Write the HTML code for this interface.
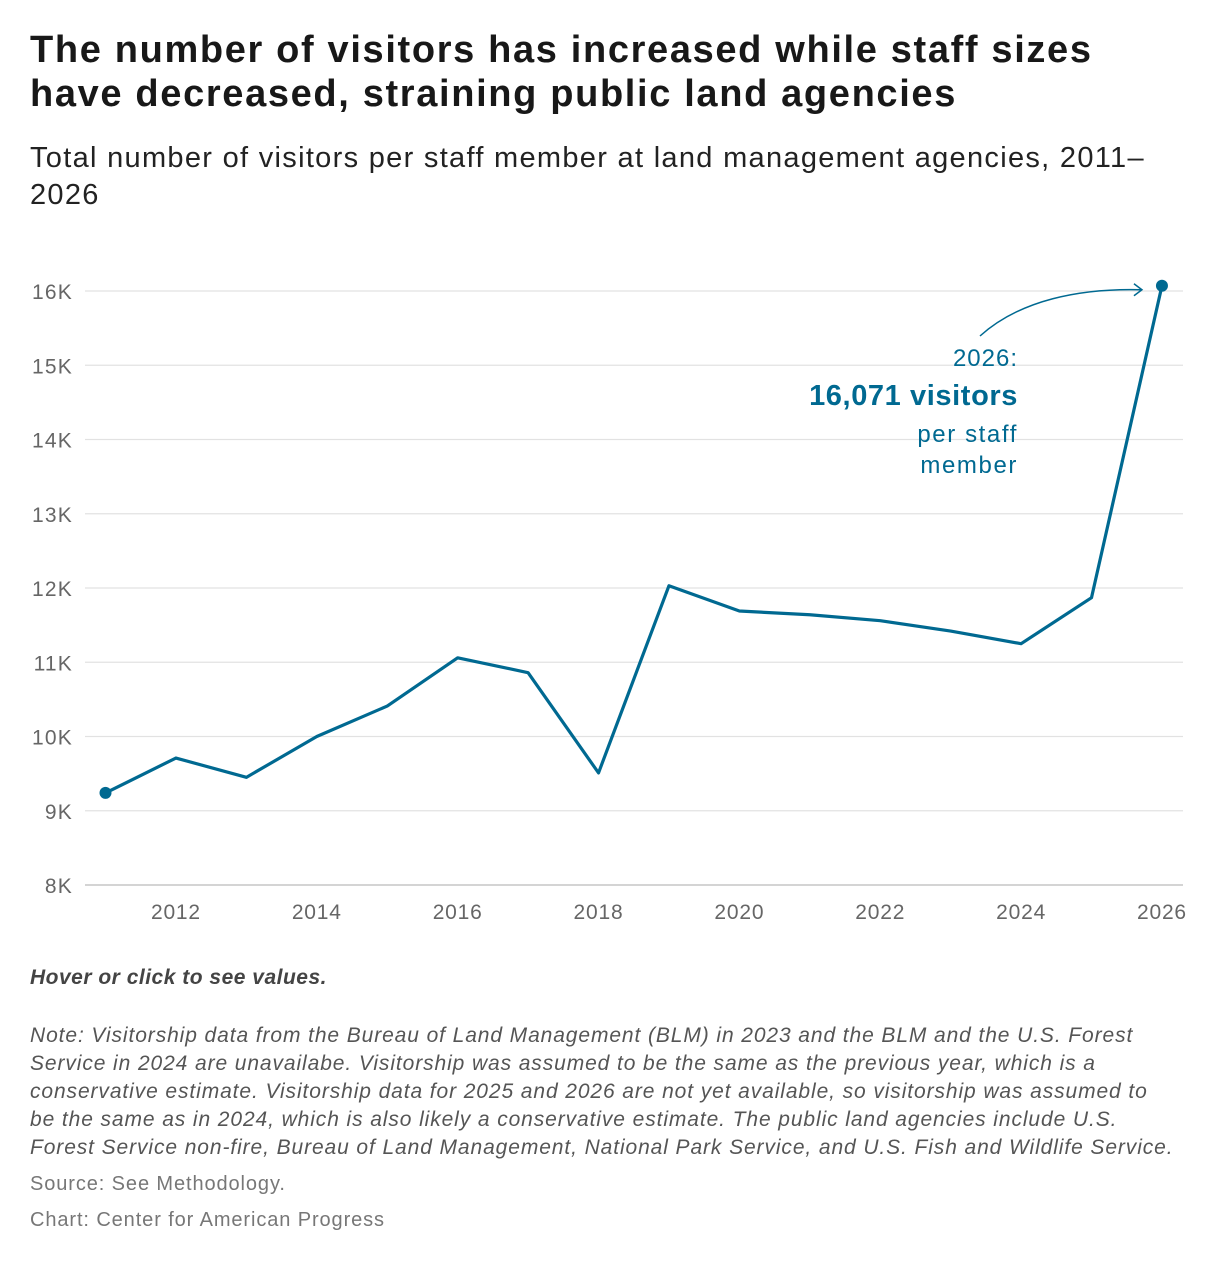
<!DOCTYPE html>
<html><head><meta charset="utf-8"><style>
body{margin:0;width:1220px;height:1264px;background:#fff;font-family:"Liberation Sans",Arial,sans-serif;color:#222;overflow:hidden}
h1{position:absolute;left:30px;top:28px;margin:0;font-size:38px;line-height:44px;font-weight:bold;color:#181818;width:1160px;letter-spacing:1.65px}
.sub{position:absolute;left:30px;top:140px;font-size:29px;line-height:37px;color:#222;width:1170px;letter-spacing:1.3px}
.hover{position:absolute;left:30px;top:966px;font-size:21px;font-style:italic;font-weight:bold;color:#444;letter-spacing:0.5px}
.note{position:absolute;left:30px;top:1022px;font-size:21px;line-height:28px;font-style:italic;color:#555;width:1185px;letter-spacing:0.9px;white-space:nowrap}
.src{position:absolute;left:30px;font-size:20px;color:#777;letter-spacing:0.9px}
svg{position:absolute;left:0;top:0}
</style></head><body>
<h1>The number of visitors has increased while staff sizes<br>have decreased, straining public land agencies</h1>
<div class="sub">Total number of visitors per staff member at land management agencies, 2011–<br>2026</div>
<svg id="chart" width="1220" height="960"></svg>
<div class="hover">Hover or click to see values.</div>
<div class="note">Note: Visitorship data from the Bureau of Land Management (BLM) in 2023 and the BLM and the U.S. Forest<br>Service in 2024 are unavailabe. Visitorship was assumed to be the same as the previous year, which is a<br>conservative estimate. Visitorship data for 2025 and 2026 are not yet available, so visitorship was assumed to<br>be the same as in 2024, which is also likely a conservative estimate. The public land agencies include U.S.<br>Forest Service non-fire, Bureau of Land Management, National Park Service, and U.S. Fish and Wildlife Service.</div>
<div class="src" style="top:1173px">Source: See Methodology.</div>
<div class="src" style="top:1209px">Chart: Center for American Progress</div>
<script>
const years=[2011,2012,2013,2014,2015,2016,2017,2018,2019,2020,2021,2022,2023,2024,2025,2026];
const values=[9240,9710,9450,10000,10410,11060,10860,9510,12030,11690,11640,11560,11420,11250,11870,16071];
const yTicks=[8000,9000,10000,11000,12000,13000,14000,15000,16000];
const yTickLabels=["8K","9K","10K","11K","12K","13K","14K","15K","16K"];
const xTicks=[2012,2014,2016,2018,2020,2022,2024,2026];
const NS="http://www.w3.org/2000/svg";
const svg=document.getElementById('chart');
function x(v){return 105.5+(v-2011)*70.43;}
function y(v){return 885-(v-8000)*0.07425;}
function mk(t,a){const e=document.createElementNS(NS,t);for(const k in a)e.setAttribute(k,a[k]);svg.appendChild(e);return e;}
yTicks.forEach((t,i)=>{
 const l=mk('line',{x1:85,x2:1183,y1:y(t),y2:y(t),stroke:i===0?'#bbb':'#e2e2e2','stroke-width':1.3});
 
 
 const tx=mk('text',{x:73,y:y(t)+8,'text-anchor':'end','font-size':21,fill:'#666','letter-spacing':1.2});
 tx.textContent=yTickLabels[i];
 
 
});
xTicks.forEach(t=>{
 const tx=mk('text',{x:x(t),y:919,'text-anchor':'middle','font-size':21,fill:'#666','letter-spacing':0.8});
 tx.textContent=t;
 
 
});
const p=mk('polyline',{points:years.map((yr,i)=>x(yr)+','+y(values[i])).join(' '),fill:'none',stroke:'#006991','stroke-width':3.2,'stroke-linejoin':'round'});


[0,years.length-1].forEach(i=>{
 const c=mk('circle',{cx:x(years[i]),cy:y(values[i]),r:6,fill:'#006991'});
 
 
});
const last=values.length-1;
const ax=x(years[last])-20, ay=y(values[last])+4;
const arr=mk('path',{d:`M980,336 C1020,300 1080,288 ${ax},${ay}`,fill:'none',stroke:'#006991','stroke-width':1.5});


const ah=mk('path',{d:`M${ax-8},${ay-6} L${ax},${ay} L${ax-8},${ay+6}`,fill:'none',stroke:'#006991','stroke-width':1.5});


const lines=[["2026:",366,24,'normal',1],[values[last].toLocaleString('en-US')+" visitors",405,29,'bold',0.6],["per staff",442,24,'normal',1.6],["member",473,24,'normal',1.6]];
lines.forEach(l=>{
 const t=mk('text',{x:1018,y:l[1],'text-anchor':'end','font-size':l[2],'font-weight':l[3],fill:'#006991','letter-spacing':l[4]});
 t.textContent=l[0];
 
 
});
</script>
</body></html>
